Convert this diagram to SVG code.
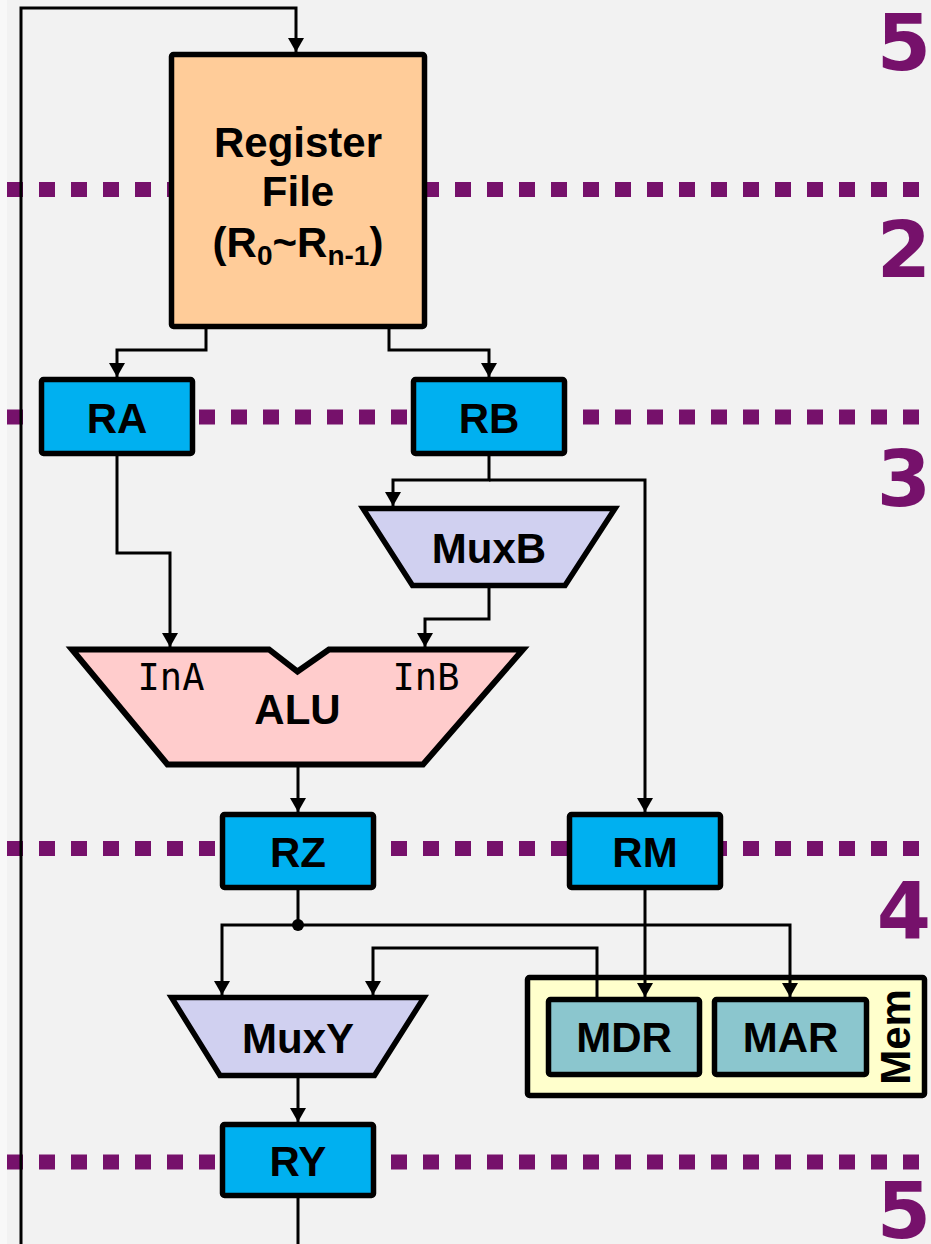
<svg xmlns="http://www.w3.org/2000/svg" width="931" height="1244" viewBox="0 0 931 1244">
  <style>
    .stage { stroke: #76116B; stroke-width: 15; stroke-dasharray: 16 16; fill: none; }
    .stageNum { font-family: "DejaVu Sans", sans-serif; font-weight: bold; font-size: 78px; fill: #76116B; text-anchor: middle; }
    .wire { fill: none; stroke: #000; stroke-width: 3; }
    .arrow { marker-end: url(#arr); }
    .box { stroke: #000; stroke-width: 5.5; stroke-linejoin: round; }
    .reg { fill: #00B0F0; }
    .mux { fill: #D0D0F0; stroke: #000; stroke-width: 5.5; stroke-linejoin: miter; }
    .lbl { font-family: "Liberation Sans", Arial, sans-serif; font-weight: bold; font-size: 42px; fill: #000; text-anchor: middle; }
    .port { font-family: "DejaVu Sans Mono", monospace; font-size: 37px; fill: #000; text-anchor: middle; }
  </style>
  <defs>
    <marker id="arr" markerUnits="userSpaceOnUse" markerWidth="14" markerHeight="16" viewBox="0 0 14 16" refX="14" refY="8" orient="auto">
      <path d="M0,0 L14,8 L0,16 z" fill="#000"/>
    </marker>
  </defs>

  <!-- page background -->
  <rect x="0" y="0" width="931" height="1244" fill="#F2F2F2"/>
  <rect x="0" y="0" width="7" height="1244" fill="#F8F8F8"/>

  <!-- pipeline stage boundaries and stage numbers -->
  <g id="stages">
    <line class="stage" x1="7" y1="189.5" x2="923" y2="189.5"/>
    <line class="stage" x1="7" y1="417" x2="923" y2="417"/>
    <line class="stage" x1="7" y1="848.5" x2="923" y2="848.5"/>
    <line class="stage" x1="7" y1="1162" x2="923" y2="1162"/>
    <text class="stageNum" x="904" y="70">5</text>
    <text class="stageNum" x="904" y="277">2</text>
    <text class="stageNum" x="904" y="506">3</text>
    <text class="stageNum" x="904" y="938">4</text>
    <text class="stageNum" x="904" y="1238">5</text>
  </g>

  <!-- memory interface container (drawn beneath the wires) -->
  <g id="mem">
    <rect class="box" x="527.5" y="977.5" width="397" height="118" rx="2" fill="#FFFFCC"/>
    <text class="lbl" transform="translate(910,1037) rotate(-90)" x="0" y="0" font-size="41">Mem</text>
  </g>

  <!-- datapath wires -->
  <g id="connectors">
    <path class="wire arrow" d="M21,1244 V8 H296 V52"/>
    <path class="wire" d="M298,1198 V1244"/>
    <path class="wire arrow" d="M206,329 V350 H117 V377"/>
    <path class="wire arrow" d="M389,329 V350 H489 V377"/>
    <path class="wire arrow" d="M489,456 V480 H393 V506"/>
    <path class="wire arrow" d="M489,480 H645 V812"/>
    <path class="wire arrow" d="M117,456 V553 H170 V647"/>
    <path class="wire arrow" d="M489,588 V619 H425 V647"/>
    <path class="wire arrow" d="M298,767 V812"/>
    <path class="wire" d="M298,890 V925"/>
    <path class="wire arrow" d="M298,925 H222 V995"/>
    <path class="wire arrow" d="M298,925 H790 V997"/>
    <path class="wire arrow" d="M645,890 V997"/>
    <path class="wire arrow" d="M597,997 V948 H373 V995"/>
    <path class="wire arrow" d="M298,1078 V1122"/>
    <circle cx="298" cy="925" r="6" fill="#000"/>
  </g>

  <g id="regfile">
    <rect class="box" x="171.5" y="54.5" width="253" height="272" rx="2" fill="#FFCC99"/>
    <text class="lbl" x="298" y="157" font-size="43">Register</text>
    <text class="lbl" x="298" y="206" font-size="43">File</text>
    <text class="lbl" x="298" y="257" font-size="42">(R<tspan font-size="28" dy="8">0</tspan><tspan dy="-8">~R</tspan><tspan font-size="28" dy="8">n-1</tspan><tspan dy="-8">)</tspan></text>
  </g>

  <g id="RA">
    <rect class="box reg" x="41.5" y="379.5" width="151" height="74" rx="2"/>
    <text class="lbl" x="117" y="433">RA</text>
  </g>

  <g id="RB">
    <rect class="box reg" x="413.5" y="379.5" width="151" height="74" rx="2"/>
    <text class="lbl" x="489" y="433">RB</text>
  </g>

  <g id="MuxB">
    <polygon class="mux" points="363,508.5 615,508.5 565,585.5 412.5,585.5"/>
    <text class="lbl" x="489" y="563">MuxB</text>
  </g>

  <g id="ALU">
    <polygon points="72,649.5 269,649.5 297.5,671.5 329,649.5 523,649.5 423,764.5 167.5,764.5" fill="#FFCCCC" stroke="#000" stroke-width="6" stroke-linejoin="miter"/>
    <text class="port" x="171" y="690">InA</text>
    <text class="port" x="426" y="690">InB</text>
    <text class="lbl" x="297.5" y="724">ALU</text>
  </g>

  <g id="RZ">
    <rect class="box reg" x="222.5" y="814.5" width="151" height="73" rx="2"/>
    <text class="lbl" x="298" y="866.5">RZ</text>
  </g>

  <g id="RM">
    <rect class="box reg" x="569.5" y="814.5" width="151" height="73" rx="2"/>
    <text class="lbl" x="645" y="866.5">RM</text>
  </g>

  <g id="MuxY">
    <polygon class="mux" points="171.5,997.5 424,997.5 374.5,1075.5 220,1075.5"/>
    <text class="lbl" x="298" y="1053">MuxY</text>
  </g>

  <g id="MDR">
    <rect class="box" x="548.5" y="999.5" width="151" height="75" rx="2" fill="#8BC6CE"/>
    <text class="lbl" x="624" y="1052">MDR</text>
  </g>

  <g id="MAR">
    <rect class="box" x="714.5" y="999.5" width="152" height="75" rx="2" fill="#8BC6CE"/>
    <text class="lbl" x="790.5" y="1052">MAR</text>
  </g>

  <g id="RY">
    <rect class="box reg" x="222.5" y="1124.5" width="151" height="71" rx="2"/>
    <text class="lbl" x="298" y="1176">RY</text>
  </g>
</svg>
